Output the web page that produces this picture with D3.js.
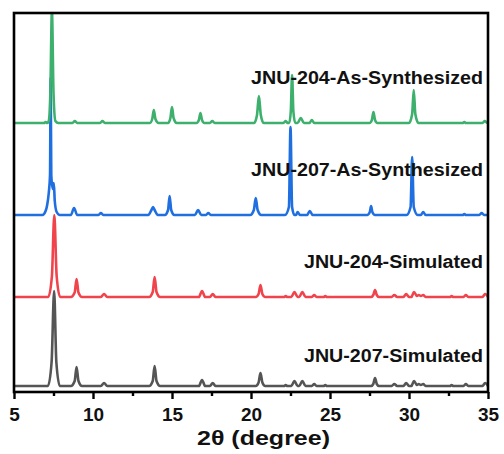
<!DOCTYPE html>
<html lang="en">

<head>
  <meta charset="UTF-8">
  <title>XRD patterns</title>
  <script src="https://d3js.org/d3.v7.min.js"></script>
  <style>
    body { margin: 0; background: #fff; }
    text { font-family: "Liberation Sans", Arial, sans-serif; font-weight: bold; fill: #111; }
  </style>
</head>

<body>
  <svg id="xrd" width="504" height="454"></svg>

  <script>
    // x axis ticks
    const xTicks = [5, 10, 15, 20, 25, 30, 35];
    const xMinorTicks = [7.5, 12.5, 17.5, 22.5, 27.5, 32.5];

    // series, drawn bottom to top
    const seriesNames = ['JNU-207-Simulated', 'JNU-204-Simulated', 'JNU-207-As-Synthesized', 'JNU-204-As-Synthesized'];
    const seriesOffsets = [6, 95, 177, 269];
    const seriesColors = ['#555555', '#f0434b', '#1f6fe0', '#3cb06c'];

    // [2theta, intensity above baseline]
    const sim207 = [
      [5, 0], [7.15, 0], [7.38, 24], [7.54, 95], [7.68, 24], [7.9, 0],
      [8.6, 0], [8.84, 5], [8.96, 19], [9.08, 5], [9.3, 0],
      [10.5, 0], [10.7, 3], [10.9, 0],
      [13.55, 0], [13.78, 5], [13.9, 20], [14.02, 5], [14.25, 0],
      [16.7, 0], [16.9, 6], [17.1, 0],
      [17.4, 0], [17.58, 3], [17.75, 0],
      [20.3, 0], [20.48, 3.5], [20.6, 13], [20.72, 3.5], [20.9, 0],
      [22.1, 0], [22.2, 1], [22.3, 0],
      [22.55, 0], [22.75, 5], [22.95, 0],
      [23.05, 0], [23.25, 5], [23.45, 0],
      [23.85, 0], [24.0, 2], [24.15, 0],
      [24.6, 0], [24.7, 1], [24.8, 0],
      [27.6, 0], [27.74, 2], [27.85, 8], [27.96, 2], [28.1, 0],
      [28.9, 0], [29.07, 2], [29.25, 0],
      [29.65, 0], [29.82, 3], [30.0, 0],
      [30.15, 0], [30.32, 5], [30.5, 1], [30.62, 2], [30.75, 1], [30.9, 2], [31.05, 0],
      [32.6, 0], [32.7, 1], [32.8, 0],
      [33.45, 0], [33.6, 2], [33.75, 0],
      [34.65, 0], [34.82, 3], [35, 0]
    ];

    const sim204 = [
      [5, 0], [7.17, 0], [7.4, 21], [7.55, 82], [7.7, 21], [7.92, 0],
      [8.6, 0], [8.84, 4.5], [8.96, 18], [9.08, 4.5], [9.3, 0],
      [10.5, 0], [10.7, 3], [10.9, 0],
      [13.55, 0], [13.78, 5], [13.9, 20], [14.02, 5], [14.25, 0],
      [16.7, 0], [16.9, 6], [17.1, 0],
      [17.4, 0], [17.58, 3], [17.75, 0],
      [20.3, 0], [20.48, 3], [20.6, 12], [20.72, 3], [20.9, 0],
      [22.1, 0], [22.2, 1], [22.3, 0],
      [22.55, 0], [22.75, 5], [22.95, 0],
      [23.05, 0], [23.25, 5], [23.45, 0],
      [23.85, 0], [24.0, 2], [24.15, 0],
      [24.6, 0], [24.7, 1], [24.8, 0],
      [27.6, 0], [27.74, 2], [27.85, 7], [27.96, 2], [28.1, 0],
      [28.9, 0], [29.07, 2], [29.25, 0],
      [29.65, 0], [29.82, 3], [30.0, 0],
      [30.15, 0], [30.32, 5], [30.5, 1], [30.62, 2], [30.75, 1], [30.9, 2], [31.05, 0],
      [32.6, 0], [32.7, 1], [32.8, 0],
      [33.45, 0], [33.6, 2], [33.75, 0],
      [34.65, 0], [34.82, 3], [35, 0]
    ];

    const syn207 = [
      [5, 0], [6.8, 0], [7.0, 4], [7.1, 10], [7.2, 22], [7.28, 40], [7.32, 137], [7.36, 40],
      [7.45, 26], [7.52, 32], [7.58, 14], [7.7, 3], [7.9, 0],
      [8.6, 0], [8.8, 7], [9.0, 0],
      [10.35, 0], [10.5, 2], [10.65, 0],
      [13.5, 0], [13.7, 5], [13.8, 8], [13.9, 5], [14.1, 0],
      [14.55, 0], [14.75, 5], [14.85, 19], [14.95, 5], [15.15, 0],
      [16.45, 0], [16.65, 5], [16.85, 0],
      [17.15, 0], [17.3, 2], [17.45, 0],
      [19.95, 0], [20.18, 5], [20.3, 17], [20.42, 5], [20.65, 0],
      [22.15, 0], [22.4, 8], [22.5, 88], [22.6, 8], [22.75, 0],
      [22.85, 0], [22.95, 3], [23.1, 0],
      [23.55, 0], [23.72, 4], [23.9, 0],
      [27.35, 0], [27.52, 3], [27.6, 9], [27.68, 3], [27.85, 0],
      [29.85, 0], [30.1, 8], [30.2, 58], [30.3, 8], [30.55, 0],
      [30.75, 0], [30.9, 3], [31.05, 0],
      [33.4, 0], [33.5, 1], [33.6, 0],
      [34.45, 0], [34.6, 2], [34.75, 0], [35, 0]
    ];

    const syn204 = [
      [5, 0], [6.9, 0], [7.0, 1], [7.1, 0], [7.2, 2], [7.3, 30], [7.4, 112], [7.5, 30], [7.62, 2], [7.8, 0],
      [8.7, 0], [8.85, 2], [9.0, 0],
      [10.45, 0], [10.6, 2], [10.75, 0],
      [13.6, 0], [13.75, 4], [13.85, 13], [13.95, 4], [14.15, 0],
      [14.75, 0], [14.9, 5], [15.0, 16], [15.1, 5], [15.3, 0],
      [16.55, 0], [16.7, 3], [16.8, 10], [16.9, 3], [17.05, 0],
      [17.4, 0], [17.55, 2], [17.7, 0],
      [20.2, 0], [20.38, 8], [20.5, 27], [20.62, 8], [20.8, 0],
      [22.05, 0], [22.2, 2], [22.32, 0],
      [22.42, 0], [22.52, 12], [22.6, 48], [22.68, 12], [22.8, 0],
      [22.95, 0], [23.15, 5], [23.35, 0],
      [23.7, 0], [23.85, 3], [24.0, 0],
      [27.5, 0], [27.65, 3], [27.75, 11], [27.85, 3], [28.0, 0],
      [30.0, 0], [30.2, 9], [30.3, 33], [30.4, 9], [30.6, 0],
      [33.4, 0], [33.5, 1], [33.6, 0],
      [34.65, 0], [34.8, 2], [34.95, 0], [35, 0]
    ];

    const seriesData = [sim207, sim204, syn207, syn204];

    //setting up the svg
    const svg = d3.select('svg#xrd');
    const width = +svg.attr('width');
    const height = +svg.attr('height');
    const margin = { top: 13, right: 16, bottom: 62, left: 14 };
    const chartWidth = width - margin.left - margin.right;
    const chartHeight = height - margin.top - margin.bottom;

    const xScale = d3.scaleLinear().domain([5, 35]).range([0, chartWidth]);
    const yScale = d3.scaleLinear().domain([0, chartHeight]).range([chartHeight, 0]);

    let chartArea = svg.append('g')
      .attr('transform', 'translate(' + margin.left + ', ' + margin.top + ')');

    svg.append('defs').append('clipPath').attr('id', 'plotclip')
      .append('rect').attr('width', chartWidth).attr('height', chartHeight);

    let lines = chartArea.append('g').attr('clip-path', 'url(#plotclip)');

    seriesData.forEach((data, i) => {
      let line = d3.line()
        .x(d => xScale(d[0]))
        .y(d => yScale(d[1] + seriesOffsets[i]))
        .curve(d3.curveMonotoneX);
      lines.append('path')
        .datum(data)
        .attr('d', line)
        .attr('fill', 'none')
        .attr('stroke', seriesColors[i])
        .attr('stroke-width', 2.6)
        .attr('stroke-linejoin', 'round');
    });

    // labels above each trace
    const labelLift = [24, 29, 39, 39];
    const labelWidths = [179, 179, 232, 232];
    seriesNames.forEach((name, i) => {
      chartArea.append('text')
        .attr('x', 469 - labelWidths[i])
        .attr('y', yScale(seriesOffsets[i]) - labelLift[i])
        .attr('textLength', labelWidths[i])
        .attr('lengthAdjust', 'spacingAndGlyphs')
        .style('font-size', '18px')
        .text(name);
    });

    //x-axis, major and minor ticks
    let bottomAxis = d3.axisBottom(xScale)
      .tickValues(xTicks)
      .tickSize(7)
      .tickPadding(9)
      .tickFormat(d3.format('d'));

    let minorAxis = d3.axisBottom(xScale)
      .tickValues(xMinorTicks)
      .tickSize(4)
      .tickFormat('');

    let xAxisG = chartArea.append('g')
      .attr('transform', 'translate(0, ' + chartHeight + ')')
      .call(bottomAxis);
    xAxisG.select('.domain').remove();
    xAxisG.selectAll('line').attr('stroke', '#000').attr('stroke-width', 2.4);
    xAxisG.selectAll('text')
      .style('font-size', '19px')
      .style('font-family', '"Liberation Sans", Arial, sans-serif')
      .style('font-weight', 'bold')
      .attr('fill', '#111');

    let minorG = chartArea.append('g')
      .attr('transform', 'translate(0, ' + chartHeight + ')')
      .call(minorAxis);
    minorG.select('.domain').remove();
    minorG.selectAll('line').attr('stroke', '#000').attr('stroke-width', 2.4);

    // frame
    chartArea.append('rect')
      .attr('width', chartWidth)
      .attr('height', chartHeight)
      .attr('fill', 'none')
      .attr('stroke', '#000')
      .attr('stroke-width', 2.6);

    // axis title
    svg.append('text')
      .attr('x', 197)
      .attr('y', 445)
      .attr('textLength', 133)
      .attr('lengthAdjust', 'spacingAndGlyphs')
      .style('font-size', '21px')
      .text('2θ (degree)');
  </script>
</body>

</html>
